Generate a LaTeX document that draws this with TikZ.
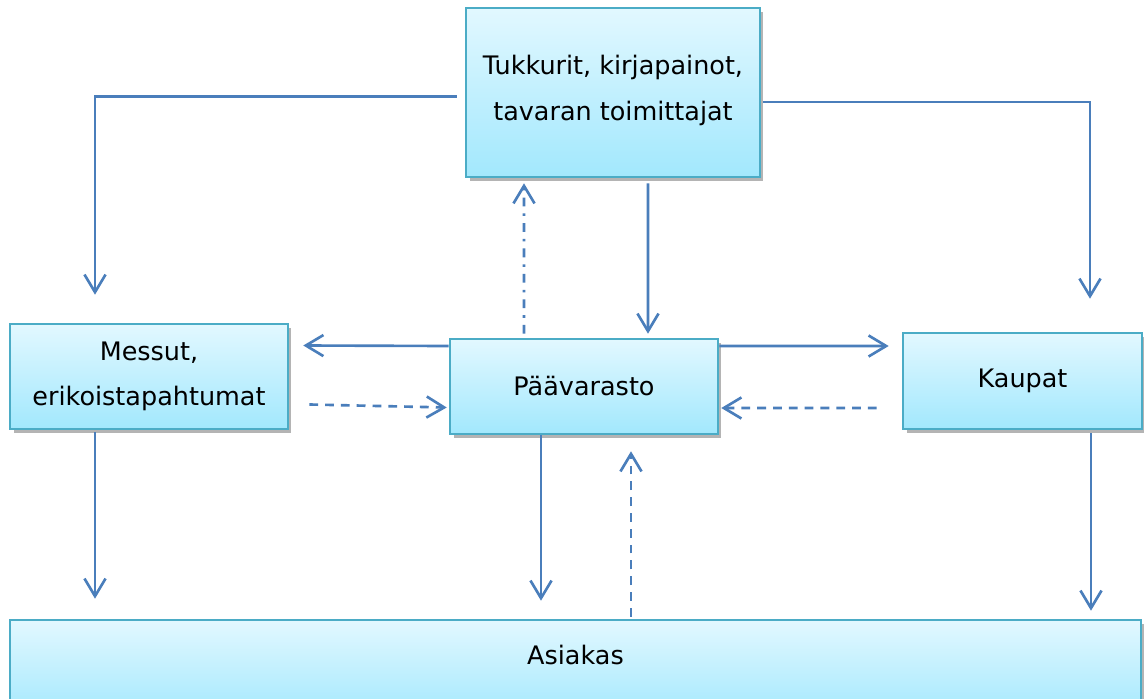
\documentclass[tikz,border=0pt]{standalone}
\usepackage{fontspec}
\setmainfont{DejaVu Sans}
\usetikzlibrary{arrows.meta,shadows}
\definecolor{boxline}{HTML}{4BACC6}
\definecolor{boxtop}{HTML}{E2F8FF}
\definecolor{boxbot}{HTML}{A2E8FD}
\definecolor{flow}{HTML}{4A7EBB}
\tikzset{
  box/.style={draw=boxline, line width=1.5pt, top color=boxtop, bottom color=boxbot,
    drop shadow={shadow xshift=0.07cm, shadow yshift=-0.08cm, opacity=0.45, fill=black!65},
    align=center, font=\fontsize{14.5}{26}\selectfont, inner sep=0pt},
  link/.style={draw=flow, line width=1.5pt, -{Straight Barb[length=10pt,width=12pt]}},
  back/.style={link, dash pattern=on 5pt off 4pt},
  askback/.style={link, dash pattern=on 5pt off 4pt on 1.5pt off 4pt}
}
\begin{document}
\begin{tikzpicture}[x=0.02cm, y=-0.02cm]
\useasboundingbox (0,0) rectangle (1144,699);
\fill[white] (0,0) rectangle (1144,699);
% boxes
\node[box, minimum width=5.88cm, minimum height=3.38cm, text depth=0.2cm] (top) at (613,92.5) {Tukkurit, kirjapainot,\\tavaran toimittajat};
\node[box, minimum width=5.56cm, minimum height=2.1cm] (messut) at (149,376.5) {Messut,\\erikoistapahtumat};
\node[box, minimum width=5.36cm, minimum height=1.9cm] (pv) at (584,386.5) {Päävarasto};
\node[box, minimum width=4.78cm, minimum height=1.92cm] (kaupat) at (1022.5,381) {Kaupat};
\node[box, minimum width=22.62cm, minimum height=2cm, text depth=0.6cm] (asiakas) at (575.5,670) {Asiakas};
% from the suppliers
\draw[link, shorten >=0.56cm] ([xshift=-0.16cm,yshift=-0.08cm]top.west) -| ([xshift=-1.08cm]messut.north);
\draw[link, shorten >=0.66cm] ([xshift=0.04cm,yshift=-0.19cm]top.east) -| ([xshift=1.35cm]kaupat.north);
\draw[link] ([xshift=0.7cm,yshift=-0.1cm]top.south) -- ([xshift=1.28cm,yshift=0.08cm]pv.north);
\draw[askback] ([xshift=-1.2cm,yshift=0.08cm]pv.north) -- ([xshift=-1.78cm,yshift=-0.1cm]top.south);
% main storage and the side boxes
\draw[link] ([yshift=0.81cm]pv.west) -- ([xshift=0.28cm,yshift=0.62cm]messut.east);
\draw[back] ([xshift=0.4cm,yshift=-0.56cm]messut.east) -- ([xshift=-0.04cm,yshift=-0.42cm]pv.west);
\draw[link] ([yshift=0.81cm]pv.east) -- ([xshift=-0.26cm,yshift=0.7cm]kaupat.west);
\draw[back] ([xshift=-0.5cm,yshift=-0.54cm]kaupat.west) -- ([xshift=0.04cm,yshift=-0.43cm]pv.east);
% down to the customer
\draw[link, shorten >=0.4cm] ([xshift=-1.08cm,yshift=-0.04cm]messut.south) -- ([xshift=-1.08cm]messut.south |- asiakas.north);
\draw[link, shorten >=0.36cm] ([xshift=-0.86cm]pv.south) -- ([xshift=-0.86cm]pv.south |- asiakas.north);
\draw[back, shorten >=0.32cm] ([xshift=0.94cm,yshift=0.04cm]pv.south |- asiakas.north) -- ([xshift=0.94cm]pv.south);
\draw[link, shorten >=0.16cm] ([xshift=1.37cm,yshift=-0.06cm]kaupat.south) -- ([xshift=1.37cm]kaupat.south |- asiakas.north);
\end{tikzpicture}
\end{document}
